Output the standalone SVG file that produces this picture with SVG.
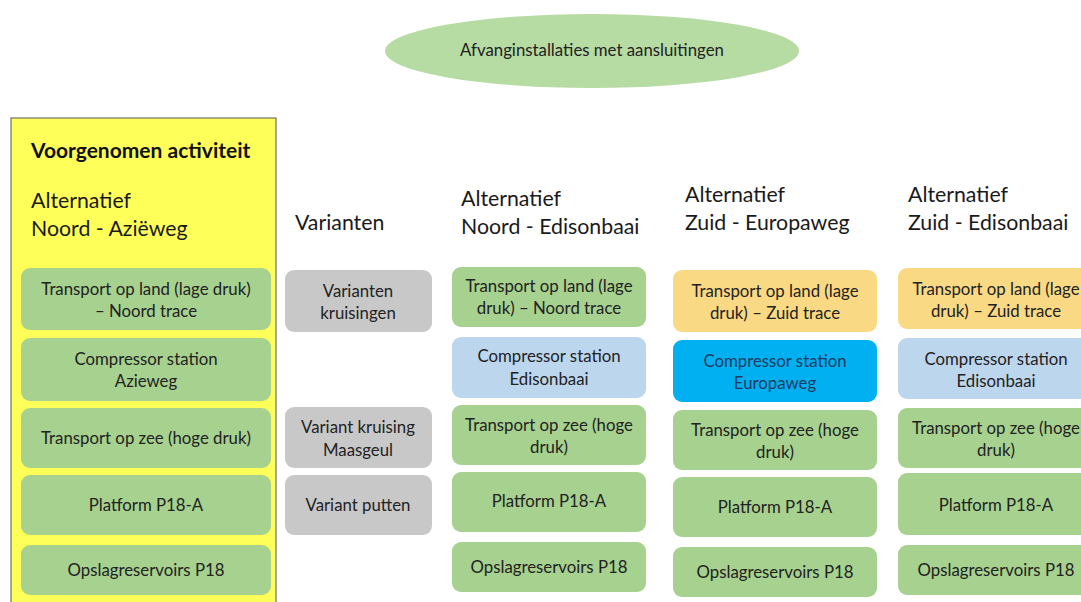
<svg xmlns="http://www.w3.org/2000/svg" width="1081" height="602" viewBox="0 0 1081 602">
<style>
text{font-family:Lato,"Liberation Sans",sans-serif;fill:#222}
.bx{font-size:16.8px;text-anchor:middle}
.hd{font-size:21.3px;fill:#1a1a1a}
.g{fill:#a6d18f}
.gr{fill:#c8c8c8}
.lb{fill:#bcd6ee}
.bb{fill:#00b0f0}
.or{fill:#fad985}
</style>
<rect width="1081" height="602" fill="#fff"/>
<g id="top">
<ellipse cx="592" cy="51" rx="207" ry="37" fill="#b6dba3"/>
<text class="bx" x="592" y="56">Afvanginstallaties met aansluitingen</text>
</g>
<g id="col-noord-azieweg">
<rect x="11" y="118" width="265" height="490" fill="#ffff5a" stroke="#555" stroke-width="1"/>
<text x="31" y="158" style="font-size:21px;font-weight:bold;fill:#111">Voorgenomen activiteit</text>
<text class="hd" x="31" y="208">Alternatief</text>
<text class="hd" x="31" y="236">Noord - Aziëweg</text>
</g>
<g id="a1"><rect class="g" x="21" y="268" width="250" height="62" rx="9"/><text class="bx" x="146" y="295">Transport op land (lage druk)</text><text class="bx" x="146" y="317">– Noord trace</text></g>
<g id="a2"><rect class="g" x="21" y="338" width="250" height="63" rx="9"/><text class="bx" x="146" y="365">Compressor station</text><text class="bx" x="146" y="387">Azieweg</text></g>
<g id="a3"><rect class="g" x="21" y="408" width="250" height="60" rx="9"/><text class="bx" x="146" y="444">Transport op zee (hoge druk)</text></g>
<g id="a4"><rect class="g" x="21" y="475" width="250" height="60" rx="9"/><text class="bx" x="146" y="511">Platform P18-A</text></g>
<g id="a5"><rect class="g" x="21" y="545" width="250" height="50" rx="9"/><text class="bx" x="146" y="576">Opslagreservoirs P18</text></g>

<g id="col-varianten"><text class="hd" x="295" y="230">Varianten</text></g>
<g id="v1"><rect class="gr" x="285" y="270" width="147" height="62" rx="9"/><text class="bx" x="358" y="297">Varianten</text><text class="bx" x="358" y="319">kruisingen</text></g>
<g id="v2"><rect class="gr" x="285" y="407" width="147" height="61" rx="9"/><text class="bx" x="358" y="433">Variant kruising</text><text class="bx" x="358" y="456">Maasgeul</text></g>
<g id="v3"><rect class="gr" x="285" y="475" width="147" height="60" rx="9"/><text class="bx" x="358" y="511">Variant putten</text></g>

<g id="col-noord-edisonbaai"><text class="hd" x="461" y="206">Alternatief</text><text class="hd" x="461" y="234">Noord - Edisonbaai</text></g>
<g id="b1"><rect class="g" x="452" y="267" width="194" height="60" rx="9"/><text class="bx" x="549" y="292">Transport op land (lage</text><text class="bx" x="549" y="314">druk) – Noord trace</text></g>
<g id="b2"><rect class="lb" x="452" y="337" width="194" height="61" rx="9"/><text class="bx" x="549" y="362">Compressor station</text><text class="bx" x="549" y="385">Edisonbaai</text></g>
<g id="b3"><rect class="g" x="452" y="405" width="194" height="60" rx="9"/><text class="bx" x="549" y="431">Transport op zee (hoge</text><text class="bx" x="549" y="453">druk)</text></g>
<g id="b4"><rect class="g" x="452" y="472" width="194" height="60" rx="9"/><text class="bx" x="549" y="507">Platform P18-A</text></g>
<g id="b5"><rect class="g" x="452" y="542" width="194" height="50" rx="9"/><text class="bx" x="549" y="573">Opslagreservoirs P18</text></g>

<g id="col-zuid-europaweg"><text class="hd" x="685" y="202">Alternatief</text><text class="hd" x="685" y="230">Zuid - Europaweg</text></g>
<g id="c1"><rect class="or" x="673" y="270" width="204" height="62" rx="9"/><text class="bx" x="775" y="297">Transport op land (lage</text><text class="bx" x="775" y="319">druk) – Zuid trace</text></g>
<g id="c2"><rect class="bb" x="673" y="340" width="204" height="62" rx="9"/><text class="bx" x="775" y="367" style="fill:#1f3a60">Compressor station</text><text class="bx" x="775" y="389" style="fill:#1f3a60">Europaweg</text></g>
<g id="c3"><rect class="g" x="673" y="410" width="204" height="60" rx="9"/><text class="bx" x="775" y="436">Transport op zee (hoge</text><text class="bx" x="775" y="458">druk)</text></g>
<g id="c4"><rect class="g" x="673" y="477" width="204" height="60" rx="9"/><text class="bx" x="775" y="513">Platform P18-A</text></g>
<g id="c5"><rect class="g" x="673" y="547" width="204" height="50" rx="9"/><text class="bx" x="775" y="578">Opslagreservoirs P18</text></g>

<g id="col-zuid-edisonbaai"><text class="hd" x="908" y="202">Alternatief</text><text class="hd" x="908" y="230">Zuid - Edisonbaai</text></g>
<g id="d1"><rect class="or" x="898" y="268" width="200" height="61" rx="9"/><text class="bx" x="996" y="295">Transport op land (lage</text><text class="bx" x="996" y="317">druk) – Zuid trace</text></g>
<g id="d2"><rect class="lb" x="898" y="338" width="200" height="61" rx="9"/><text class="bx" x="996" y="365">Compressor station</text><text class="bx" x="996" y="387">Edisonbaai</text></g>
<g id="d3"><rect class="g" x="898" y="408" width="200" height="60" rx="9"/><text class="bx" x="996" y="434">Transport op zee (hoge</text><text class="bx" x="996" y="456">druk)</text></g>
<g id="d4"><rect class="g" x="898" y="473" width="200" height="62" rx="9"/><text class="bx" x="996" y="511">Platform P18-A</text></g>
<g id="d5"><rect class="g" x="898" y="545" width="200" height="50" rx="9"/><text class="bx" x="996" y="576">Opslagreservoirs P18</text></g>
<g id="connectors"></g>
</svg>
